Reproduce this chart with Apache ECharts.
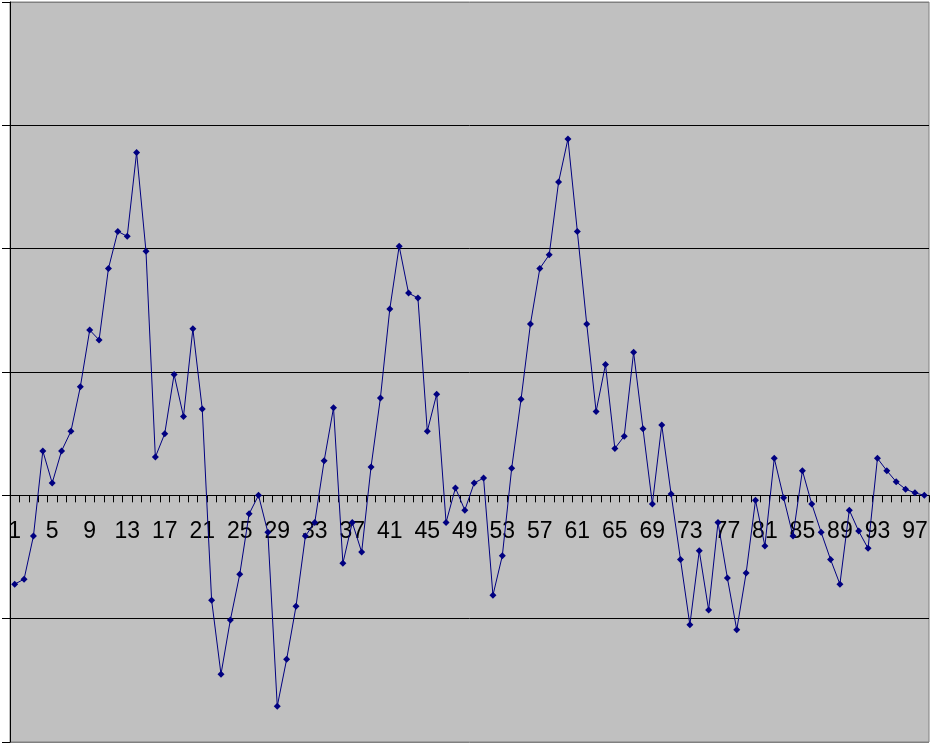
<!DOCTYPE html>
<html>
<head>
<meta charset="utf-8">
<script src="https://cdn.jsdelivr.net/npm/echarts@6/dist/echarts.min.js"></script>
<style>
html,body{margin:0;padding:0;background:#ffffff;}
#chart{width:934px;height:748px;}
</style>
</head>
<body>
<div id="chart"></div>
<script>
const categories = [];
for (let i = 1; i <= 98; i++) categories.push(String(i));

const values = [
  -0.72, -0.68, -0.33, 0.36, 0.10, 0.36, 0.52, 0.88, 1.34, 1.26,
  1.84, 2.14, 2.10, 2.78, 1.98, 0.31, 0.50, 0.98, 0.64, 1.35,
  0.70, -0.85, -1.45, -1.01, -0.64, -0.15, 0.00, -0.30, -1.71, -1.33,
  -0.90, -0.33, -0.22, 0.28, 0.71, -0.55, -0.22, -0.46, 0.23, 0.79,
  1.51, 2.02, 1.64, 1.60, 0.52, 0.82, -0.22, 0.06, -0.12, 0.10,
  0.14, -0.81, -0.49, 0.22, 0.78, 1.39, 1.84, 1.95, 2.54, 2.89,
  2.14, 1.39, 0.68, 1.06, 0.38, 0.48, 1.16, 0.54, -0.07, 0.57,
  0.01, -0.52, -1.05, -0.45, -0.93, -0.22, -0.67, -1.09, -0.63, -0.04,
  -0.41, 0.30, -0.02, -0.33, 0.20, -0.07, -0.30, -0.52, -0.72, -0.12,
  -0.29, -0.43, 0.30, 0.20, 0.11, 0.05, 0.02, 0.00
];

const yMin = -2, yMax = 4, yStep = 1;

const W = 934, H = 748;
const gridTop = 2, gridBottom = 6, gridLeft = 10, gridRight = 5;
const gridH = H - gridTop - gridBottom;
// a second, transparent grid whose bottom edge sits on value 0 carries the category axis (line, ticks, labels)
const axisGridBottom = gridBottom + gridH * (0 - yMin) / (yMax - yMin);

const chart = echarts.init(document.getElementById('chart'), null, {renderer: 'canvas'});
chart.setOption({
  animation: false,
  backgroundColor: '#ffffff',
  grid: [{
    left: gridLeft, top: gridTop, right: gridRight, bottom: gridBottom,
    show: true,
    backgroundColor: '#c0c0c0',
    borderColor: '#808080',
    borderWidth: 1,
    containLabel: false,
    outerBoundsMode: 'none'
  }, {
    left: gridLeft, top: gridTop, right: gridRight, bottom: axisGridBottom,
    show: false,
    containLabel: false,
    outerBoundsMode: 'none'
  }],
  xAxis: [{
    gridIndex: 0,
    type: 'category',
    data: categories,
    boundaryGap: true,
    axisLine: {show: false, onZero: false},
    axisTick: {show: false},
    axisLabel: {show: false},
    splitLine: {show: false}
  }, {
    gridIndex: 1,
    type: 'category',
    data: categories,
    boundaryGap: true,
    position: 'bottom',
    axisLine: {show: true, onZero: false, lineStyle: {color: '#000000', width: 1}},
    axisTick: {show: true, interval: 0, inside: false, length: 7, lineStyle: {color: '#000000', width: 1}},
    axisLabel: {
      interval: 3,
      color: '#000000',
      fontFamily: 'Liberation Sans, Arial, sans-serif',
      fontSize: 23,
      margin: 25
    },
    splitLine: {show: false}
  }],
  yAxis: [{
    gridIndex: 0,
    type: 'value',
    min: yMin, max: yMax, interval: yStep,
    axisLine: {show: true, lineStyle: {color: '#000000', width: 1}},
    axisTick: {show: true, inside: false, length: 8, lineStyle: {color: '#000000'}},
    axisLabel: {show: false},
    splitLine: {
      show: true,
      lineStyle: {
        color: ['#808080', '#000000', '#000000', '#000000', '#000000', '#000000', '#808080'],
        width: 1
      }
    }
  }, {
    gridIndex: 1,
    type: 'value',
    min: 0, max: 1,
    show: false,
    splitLine: {show: false}
  }],
  series: [{
    type: 'line',
    xAxisIndex: 0,
    yAxisIndex: 0,
    data: values,
    symbol: 'diamond',
    symbolSize: 7,
    showAllSymbol: true,
    lineStyle: {color: '#000080', width: 1},
    itemStyle: {color: '#000080'}
  }]
});
</script>
</body>
</html>
